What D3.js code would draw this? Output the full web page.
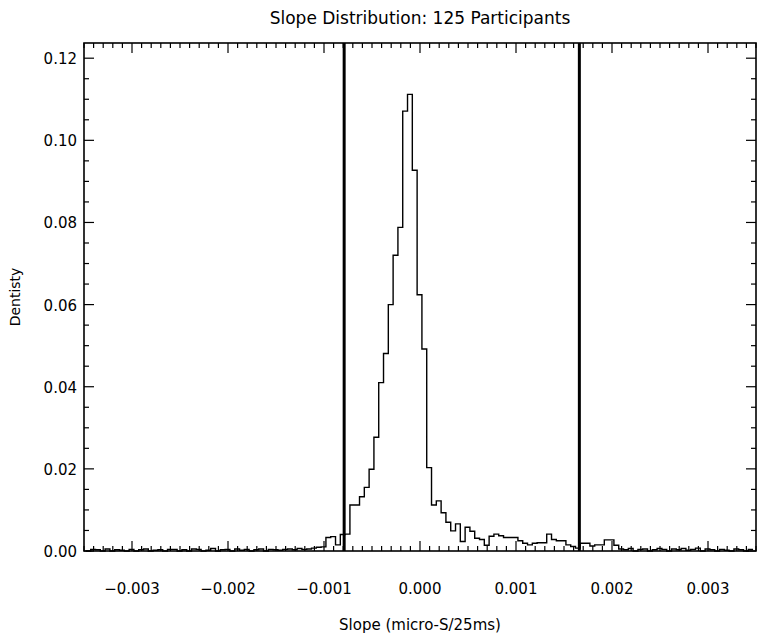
<!DOCTYPE html>
<html>
<head>
<meta charset="utf-8">
<script src="https://cdn.jsdelivr.net/npm/d3@7"></script>
<style>
body { margin: 0; background: #fff; }
text { font-family: "DejaVu Sans", sans-serif; fill: #000; }
</style>
</head>
<body>
<div id="chart"></div>
<script>
// Histogram: bins of fixed width starting at binStart
var binStart = -0.00348;
var binWidth = 0.00005;
var density = [
	// left tail -0.00348 .. -0.00118
	0, 0.0004, 0.0003, 0, 0.0005, 0, 0.0003, 0.0002, 0, 0.0004,
	0, 0.0003, 0.0005, 0, 0.0002, 0.0003, 0, 0.0004, 0.0004, 0,
	0.0003, 0, 0.0005, 0.0004, 0, 0.0002, 0.0006, 0, 0.0003, 0.0004,
	0, 0.0005, 0.0002, 0.0004, 0, 0.0003, 0.0005, 0, 0.0004, 0.0003,
	0.0002, 0.0004, 0.0005, 0.0003, 0.0006, 0.0004, 0.0005,
	// -0.00113 .. -0.00083
	0.0007, 0.0009, 0.0010, 0.0033, 0.0035, 0.0015, 0.0040,
	// -0.00078 .. 0.00072
	0.0041, 0.0112, 0.0112, 0.0132, 0.0155, 0.0199, 0.0277, 0.0410, 0.0481, 0.0600,
	0.0720, 0.0788, 0.1071, 0.1112, 0.0927, 0.0624, 0.0492, 0.0203, 0.0112, 0.0122,
	0.0093, 0.0070, 0.0049, 0.0066, 0.0023, 0.0058, 0.0048, 0.0031, 0.0028, 0.0014,
	0.0036,
	// 0.00077 .. 0.00212
	0.0041, 0.0037, 0.0033, 0.0033, 0.0033, 0.0025, 0.0019, 0.0015, 0.0019, 0.0020,
	0.0020, 0.0041, 0.0028, 0.0025, 0.0025, 0.0015, 0.0011, 0.0007, 0.0019, 0.0019,
	0.0012, 0.0015, 0.0015, 0.0027, 0.0027, 0.0014, 0.0005, 0.0003,
	// right tail 0.00217 .. 0.00342
	0.0006, 0, 0.0004, 0.0005, 0, 0.0003, 0.0006, 0.0004, 0, 0.0005,
	0.0003, 0.0006, 0.0002, 0.0004, 0.0007, 0, 0.0005, 0.0003, 0, 0.0004,
	0.0002, 0, 0.0005, 0.0003, 0, 0.0004
];
var cutoffs = [-0.00079, 0.00166];
var xTicks = [-0.003, -0.002, -0.001, 0.000, 0.001, 0.002, 0.003];
var yTicks = [0.00, 0.02, 0.04, 0.06, 0.08, 0.10, 0.12];

var width = 758, height = 639;
var pl = 84, pr = 756, pt = 43, pb = 551;

var svg = d3.select("#chart").append("svg")
	.attr("width", width)
	.attr("height", height);

var x = d3.scaleLinear().domain([-0.0035, 0.0035]).range([pl, pr]);
var y = d3.scaleLinear().domain([0, 0.1237]).range([pb, pt]);

// Step outline of the histogram
var pts = [];
density.forEach(function(d, i){
	var x0 = binStart + i * binWidth;
	pts.push([x0, d]);
	pts.push([x0 + binWidth, d]);
});
var line = d3.line()
	.x(function(d){ return x(d[0]) })
	.y(function(d){ return y(d[1]) });
svg.append("path")
	.attr("d", line(pts))
	.attr("fill", "none")
	.attr("stroke", "#000")
	.attr("stroke-width", 1.4);

// Cutoff lines
cutoffs.forEach(function(c){
	svg.append("line")
		.attr("x1", x(c)).attr("x2", x(c))
		.attr("y1", pb).attr("y2", pt)
		.attr("stroke", "#000")
		.attr("stroke-width", 3);
});

// Frame
svg.append("rect")
	.attr("x", pl).attr("y", pt)
	.attr("width", pr - pl).attr("height", pb - pt)
	.attr("fill", "none").attr("stroke", "#000").attr("stroke-width", 1.6);

// Inward ticks on all four sides
var g = svg.append("g").attr("stroke", "#000").attr("stroke-width", 1.2);
d3.range(-35, 36).forEach(function(k){
	var v = k / 10000, len = (k % 10 === 0) ? 10 : 5;
	g.append("line").attr("x1", x(v)).attr("x2", x(v)).attr("y1", pb).attr("y2", pb - len);
	g.append("line").attr("x1", x(v)).attr("x2", x(v)).attr("y1", pt).attr("y2", pt + len);
});
d3.range(0, 25).forEach(function(k){
	var v = k * 0.005, len = (k % 4 === 0) ? 10 : 5;
	g.append("line").attr("x1", pl).attr("x2", pl + len).attr("y1", y(v)).attr("y2", y(v));
	g.append("line").attr("x1", pr).attr("x2", pr - len).attr("y1", y(v)).attr("y2", y(v));
});

// Tick labels
svg.selectAll(".xl").data(xTicks).enter().append("text")
	.attr("x", function(d){ return x(d) })
	.attr("y", 594)
	.attr("text-anchor", "middle")
	.attr("font-size", 15)
	.text(function(d){ return d3.format(".3f")(d).replace("-", "\u2212") });

svg.selectAll(".yl").data(yTicks).enter().append("text")
	.attr("x", pl - 7)
	.attr("y", function(d){ return y(d) + 6 })
	.attr("text-anchor", "end")
	.attr("font-size", 15)
	.text(function(d){ return d3.format(".2f")(d) });

svg.append("text")
	.attr("x", (pl + pr) / 2).attr("y", 24)
	.attr("text-anchor", "middle").attr("font-size", 17)
	.text("Slope Distribution: 125 Participants");

svg.append("text")
	.attr("x", 420).attr("y", 630)
	.attr("text-anchor", "middle").attr("font-size", 15)
	.text("Slope (micro-S/25ms)");

svg.append("text")
	.attr("transform", "translate(20," + ((pt + pb) / 2) + ") rotate(-90)")
	.attr("text-anchor", "middle").attr("font-size", 14)
	.text("Dentisty");
</script>
</body>
</html>
